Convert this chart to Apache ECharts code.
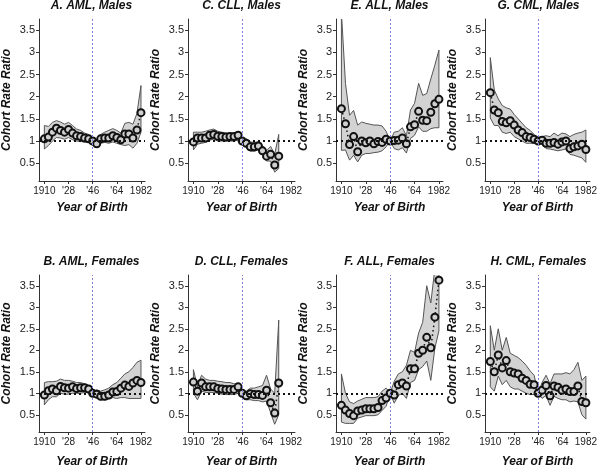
<!DOCTYPE html>
<html><head><meta charset="utf-8">
<script src="https://cdn.jsdelivr.net/npm/echarts@6/dist/echarts.min.js"></script>
<style>html,body{margin:0;padding:0;background:#fff}#c{width:600px;height:469px}</style>
</head><body><div id="c"></div>
<script>
const birthYears = [1910,1913,1916,1919,1922,1925,1928,1931,1934,1937,1940,1943,1946,1949,1952,1955,1958,1961,1964,1967,1970,1973,1976,1979,1982];
const xTickValues = [1910,1928,1946,1964,1982];
const xTickLabels = ['1910',"'28","'46","'64",'1982'];
const yTickValues = [0.5,1,1.5,2,2.5,3,3.5];
const referenceYear = 1946;
const referenceRatio = 1;

// A. AML, Males
const amlMalesRatio = [1.05,1.09,1.20,1.29,1.24,1.20,1.26,1.18,1.12,1.10,1.07,1.05,1.00,0.94,1.05,1.07,1.07,1.12,1.08,1.03,1.16,1.16,1.07,1.25,1.64];
const amlMalesLower = [0.82,0.90,1.00,1.08,1.07,1.04,1.08,1.03,1.00,0.99,0.98,0.97,1.00,0.87,0.95,0.97,0.95,0.98,0.95,0.92,0.90,0.92,0.84,0.95,1.20];
const amlMalesUpper = [1.35,1.33,1.42,1.46,1.43,1.38,1.42,1.35,1.27,1.24,1.18,1.15,1.00,1.02,1.15,1.20,1.24,1.28,1.24,1.18,1.40,1.42,1.38,1.62,2.25];
// C. CLL, Males
const cllMalesRatio = [0.98,1.07,1.07,1.07,1.13,1.15,1.11,1.10,1.09,1.10,1.10,1.13,1.00,0.95,0.87,0.87,0.89,0.78,0.66,0.70,0.46,0.66];
const cllMalesLower = [0.80,0.93,0.95,0.97,1.02,1.04,1.00,1.00,1.00,1.00,1.00,1.02,1.00,0.85,0.77,0.77,0.80,0.68,0.55,0.55,0.30,0.38];
const cllMalesUpper = [1.20,1.20,1.20,1.22,1.25,1.27,1.22,1.20,1.18,1.18,1.17,1.18,1.00,1.05,0.98,0.97,0.98,0.90,0.78,0.88,0.70,1.15];
// E. ALL, Males
const allMalesRatio = [1.73,1.39,0.92,1.10,0.76,1.00,0.96,1.00,0.94,0.99,0.97,1.04,1.00,1.01,1.02,1.07,0.94,1.32,1.37,1.67,1.47,1.46,1.65,1.84,1.94];
const allMalesLower = [0.79,0.80,0.57,0.68,0.53,0.68,0.72,0.72,0.74,0.75,0.78,0.87,1.00,0.83,0.80,0.85,0.73,1.06,1.13,1.32,1.22,1.22,1.28,1.30,1.30];
const allMalesUpper = [3.90,2.30,1.58,1.69,1.36,1.43,1.40,1.38,1.36,1.36,1.34,1.22,1.00,1.20,1.22,1.30,1.12,1.70,1.85,2.30,2.03,2.07,2.40,2.71,3.05];
// G. CML, Males
const cmlMalesRatio = [2.09,1.70,1.64,1.44,1.41,1.46,1.36,1.25,1.19,1.10,1.08,1.04,1.00,1.02,0.95,0.95,0.97,0.93,0.98,1.00,0.83,0.87,0.89,0.93,0.81];
const cmlMalesLower = [1.52,1.35,1.35,1.20,1.17,1.20,1.10,1.05,1.00,0.95,0.95,0.95,1.00,0.92,0.83,0.82,0.80,0.78,0.80,0.82,0.70,0.68,0.65,0.62,0.52];
const cmlMalesUpper = [2.88,2.15,1.95,1.80,1.75,1.72,1.60,1.50,1.40,1.30,1.24,1.15,1.00,1.10,1.12,1.10,1.18,1.12,1.18,1.16,1.10,1.15,1.18,1.20,1.25];
// B. AML, Females
const amlFemalesRatio = [0.96,1.06,1.10,1.06,1.16,1.13,1.12,1.15,1.11,1.13,1.13,1.10,1.00,0.98,0.93,0.93,0.96,1.03,1.04,1.12,1.19,1.16,1.24,1.30,1.25];
const amlFemalesLower = [0.73,0.85,0.92,0.92,1.00,0.98,0.98,1.00,1.00,1.00,1.02,1.02,1.00,0.90,0.85,0.85,0.87,0.90,0.88,0.90,0.90,0.88,0.88,0.88,0.88];
const amlFemalesUpper = [1.25,1.27,1.27,1.28,1.33,1.30,1.30,1.28,1.25,1.25,1.22,1.18,1.00,1.08,1.05,1.08,1.12,1.20,1.25,1.35,1.45,1.50,1.60,1.72,1.77];
// D. CLL, Females
const cllFemalesRatio = [1.26,1.05,1.24,1.15,1.15,1.15,1.11,1.10,1.09,1.09,1.09,1.15,1.00,0.94,0.99,0.97,0.97,0.95,1.07,0.78,0.54,1.24];
const cllFemalesLower = [1.00,0.85,1.05,1.02,1.02,1.02,1.00,0.98,0.97,0.97,0.97,1.00,1.00,0.85,0.85,0.83,0.83,0.80,0.82,0.55,0.28,0.50];
const cllFemalesUpper = [1.55,1.15,1.42,1.33,1.30,1.30,1.28,1.27,1.25,1.25,1.22,1.22,1.00,1.05,1.12,1.12,1.15,1.18,1.42,1.10,1.00,2.70];
// F. ALL, Females
const allFemalesRatio = [0.72,0.61,0.53,0.48,0.59,0.61,0.64,0.64,0.64,0.67,0.83,0.89,1.00,0.96,1.20,1.24,1.17,1.57,1.57,1.93,2.00,2.30,2.06,2.77,3.63];
const allFemalesLower = [0.33,0.30,0.30,0.30,0.42,0.45,0.48,0.48,0.48,0.50,0.60,0.70,1.00,0.77,0.95,1.00,0.88,1.25,1.30,1.55,1.62,1.75,1.30,2.05,2.45];
const allFemalesUpper = [1.45,1.00,0.80,0.76,0.82,0.86,0.90,0.90,0.90,0.92,1.05,1.12,1.00,1.28,1.45,1.50,1.65,2.00,1.95,2.40,2.65,3.50,3.10,3.90,4.20];
// H. CML, Females
const cmlFemalesRatio = [1.74,1.50,1.89,1.59,1.76,1.50,1.47,1.45,1.35,1.30,1.21,1.20,1.00,1.07,1.18,0.94,1.17,1.14,1.07,1.10,1.04,1.04,1.17,0.81,0.78];
const cmlFemalesLower = [1.15,1.05,1.40,1.20,1.30,1.15,1.10,1.10,1.05,1.00,0.97,0.97,1.00,0.88,0.95,0.72,0.93,0.88,0.85,0.85,0.80,0.82,0.80,0.50,0.40];
const cmlFemalesUpper = [2.57,2.00,2.50,2.00,2.30,1.93,1.88,1.83,1.75,1.65,1.52,1.42,1.00,1.25,1.42,1.22,1.45,1.45,1.45,1.48,1.45,1.55,1.72,1.30,1.40];

const panels = [
  {title:'A. AML, Males', ratio:amlMalesRatio, lower:amlMalesLower, upper:amlMalesUpper, col:0, row:0},
  {title:'C. CLL, Males', ratio:cllMalesRatio, lower:cllMalesLower, upper:cllMalesUpper, col:1, row:0},
  {title:'E. ALL, Males', ratio:allMalesRatio, lower:allMalesLower, upper:allMalesUpper, col:2, row:0},
  {title:'G. CML, Males', ratio:cmlMalesRatio, lower:cmlMalesLower, upper:cmlMalesUpper, col:3, row:0},
  {title:'B. AML, Females', ratio:amlFemalesRatio, lower:amlFemalesLower, upper:amlFemalesUpper, col:0, row:1},
  {title:'D. CLL, Females', ratio:cllFemalesRatio, lower:cllFemalesLower, upper:cllFemalesUpper, col:1, row:1},
  {title:'F. ALL, Females', ratio:allFemalesRatio, lower:allFemalesLower, upper:allFemalesUpper, col:2, row:1},
  {title:'H. CML, Females', ratio:cmlFemalesRatio, lower:cmlFemalesLower, upper:cmlFemalesUpper, col:3, row:1}
];

const FONT = '"Liberation Sans", Arial, sans-serif';
const gridLefts = [38, 188, 336, 485];
const gridTops = [19, 275];
const gridHeights = [162, 163];
const gridWidth = 107;
const titleTops = [0, 256];
const xNameGaps = [21, 24];
const nameStyle = {fontWeight:'bold', fontStyle:'italic', fontSize:12, color:'#111', fontFamily:FONT};

const grid = [], xAxis = [], yAxis = [], series = [], title = [];
panels.forEach((p, k) => {
  const left = gridLefts[p.col], top = gridTops[p.row], height = gridHeights[p.row];
  grid.push({left, top, width:gridWidth, height, containLabel:false});
  title.push({text:p.title, left:left + gridWidth/2, top:titleTops[p.row], textAlign:'center', padding:0,
    textStyle:{fontSize:12, fontWeight:'bold', fontStyle:'italic', color:'#111', fontFamily:FONT}});
  xAxis.push({type:'value', gridIndex:k, min:1906, max:1985,
    axisLine:{show:true, onZero:false, lineStyle:{color:'#333', width:1}},
    axisTick:{show:true, customValues:xTickValues, length:3, lineStyle:{color:'#333'}},
    axisLabel:{customValues:xTickValues, formatter:v => xTickLabels[xTickValues.indexOf(v)],
      fontSize:10, color:'#222', margin:5, fontFamily:FONT},
    splitLine:{show:false},
    name:'Year of Birth', nameLocation:'middle', nameGap:xNameGaps[p.row], nameTextStyle:nameStyle});
  yAxis.push({type:'value', gridIndex:k, min:0.1, max:3.75,
    axisLine:{show:true, lineStyle:{color:'#333', width:1}},
    axisTick:{show:true, customValues:yTickValues, length:3, lineStyle:{color:'#333'}},
    axisLabel:{customValues:yTickValues, fontSize:11, color:'#222', margin:4, fontFamily:FONT},
    splitLine:{show:false},
    name:'Cohort Rate Ratio', nameLocation:'middle', nameGap:26, nameRotate:90, nameTextStyle:nameStyle});
  const yrs = birthYears.slice(0, p.ratio.length);
  // confidence band drawn as one polygon through the axis scales
  series.push({type:'custom', xAxisIndex:k, yAxisIndex:k, z:1, silent:true, clip:true,
    data: yrs.map((y,i) => [y, p.lower[i], p.upper[i]]),
    encode:{x:0, y:[1,2]},
    renderItem:(params, api) => {
      if (params.dataIndex !== 0) return null;
      const pts = [];
      for (let i = 0; i < yrs.length; i++) pts.push(api.coord([yrs[i], p.upper[i]]));
      for (let i = yrs.length - 1; i >= 0; i--) pts.push(api.coord([yrs[i], p.lower[i]]));
      const cs = params.coordSys;
      return {type:'polygon', shape:{points:pts},
        clipPath:{type:'rect', shape:{x:cs.x, y:cs.y, width:cs.width, height:cs.height}},
        style:{fill:'#d3d3d3', stroke:'#555', lineWidth:1}};
    }});
  series.push({type:'line', xAxisIndex:k, yAxisIndex:k, data:[], z:3, silent:true,
    markLine:{silent:true, symbol:'none', label:{show:false}, animation:false,
      data:[{xAxis:referenceYear, lineStyle:{color:'#7f7fd8', type:[2,2], width:1}},
            {yAxis:referenceRatio, lineStyle:{color:'#111', type:[2,3], width:2}}]}});
  series.push({type:'line', xAxisIndex:k, yAxisIndex:k, z:4, silent:true,
    data: yrs.map((y,i) => [y, p.ratio[i]]), symbol:'circle', symbolSize:7, showSymbol:true,
    lineStyle:{color:'#111', type:[1.5,3], width:1.5},
    itemStyle:{color:'#cfcfcf', borderColor:'#111', borderWidth:2}});
});

const chart = echarts.init(document.getElementById('c'), null, {renderer:'canvas'});
chart.setOption({animation:false, backgroundColor:'#fff', textStyle:{fontFamily:FONT},
  title, grid, xAxis, yAxis, series});
</script></body></html>
